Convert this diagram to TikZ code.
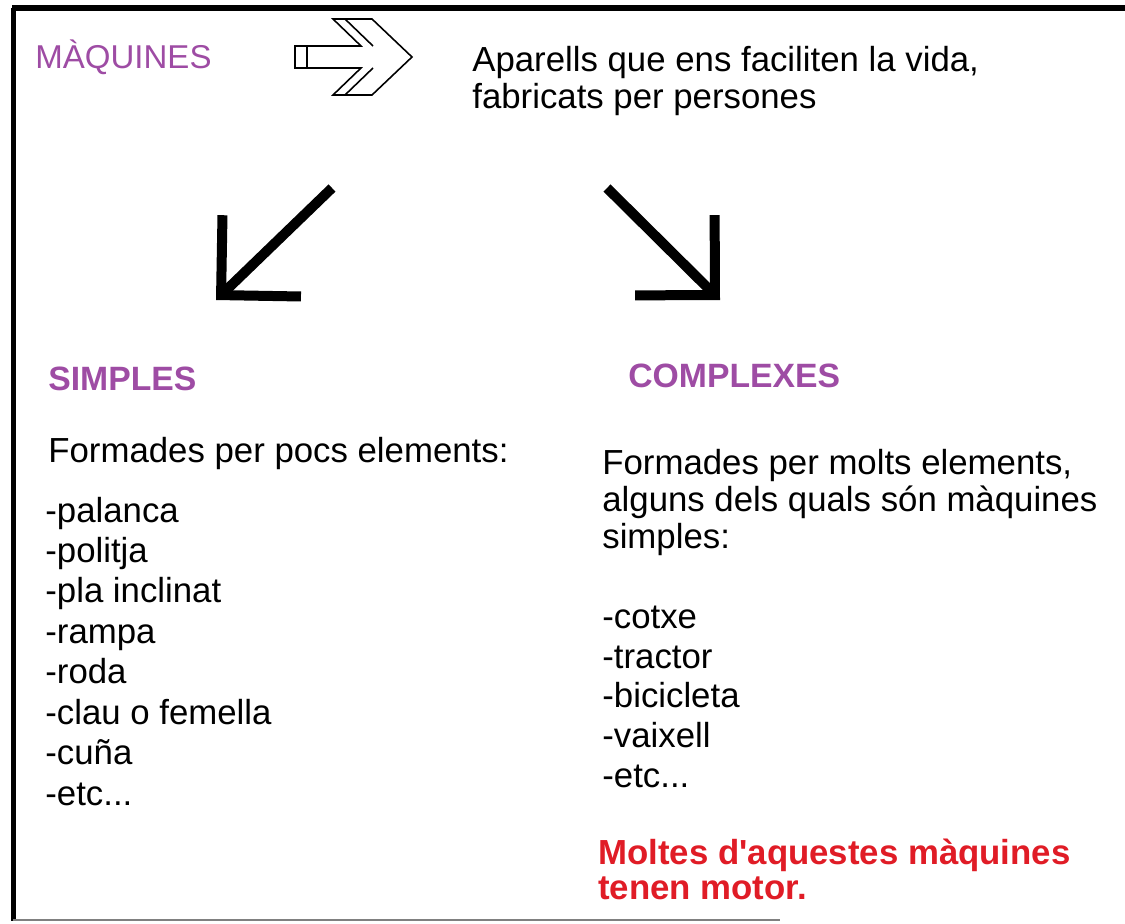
\documentclass[tikz,border=0pt]{standalone}
\usepackage{fontspec}
\setmainfont{Liberation Sans}
\usetikzlibrary{arrows.meta}
\definecolor{lila}{RGB}{158,76,164}
\definecolor{vermell}{RGB}{224,28,38}

\begin{document}
\begin{tikzpicture}[x=0.02cm, y=-0.02cm,
  titol/.style={anchor=base west, inner sep=0, text=lila, font=\fontsize{18.8}{21}\selectfont},
  capsal/.style={anchor=base west, inner sep=0, text=lila, font=\fontsize{19.2}{21}\selectfont\bfseries},
  cos/.style={anchor=base west, inner sep=0, align=left, font=\fontsize{19.8}{21}\selectfont},
  llista/.style={anchor=base west, inner sep=0, align=left, font=\fontsize{19.8}{23}\selectfont},
  nota/.style={anchor=base west, inner sep=0, align=left, text=vermell, font=\fontsize{19.8}{19.8}\selectfont\bfseries},
  fletxa/.style={line width=0.2cm, -{Straight Barb[sharp, length=1.13cm, width=2.26cm]}}]
\useasboundingbox (0,0) rectangle (1125,923);
% marc
\draw [line width=6*0.02cm] (12,8) -- (1125,8);
\draw [line width=5*0.02cm] (13,8) -- (13,921);
\draw [line width=2*0.02cm, gray] (13,920) -- (780,920);
% titol i definicio (base = darrera linia)
\node (maq) [titol] at (35,68) {MÀQUINES};
\node (desc) [cos] at (472,108) {Aparells que ens faciliten la vida,\\fabricats per persones};
% fletxa buida
\draw [line width=0.9pt, line join=miter] (295,46) -- (361,46) -- (333,19) -- (372,19) -- (412,57) -- (372,95) -- (333,95) -- (361,68) -- (295,68) -- cycle;
\draw [line width=0.9pt] (307,46) -- (307,68);
\draw [line width=0.9pt] (345,19) -- (373,46);
\draw [line width=0.9pt] (345,95) -- (373,68);
% fletxes gruixudes
\coordinate (ls) at (332,188);
\coordinate (le) at (216,300);
\coordinate (rs) at (607,188);
\coordinate (re) at (720,300);
\draw [fletxa] (ls) -- (le);
\draw [fletxa] (rs) -- (re);
% simples
\node (simples) [capsal] at (48,390) {SIMPLES};
\node (fsimples) [cos] at (48,462) {Formades per pocs elements:};
\node (llsimples) [llista] at (45,805) {-palanca\\-politja\\-pla inclinat\\-rampa\\-roda\\-clau o femella\\-cuña\\-etc...};
% complexes
\node (complexes) [capsal] at (628,387) {COMPLEXES};
\node (fcomplexes) [cos] at (602,548) {Formades per molts elements,\\alguns dels quals són màquines\\simples:};
\node (llcomplexes) [llista, font=\fontsize{19.8}{22.5}\selectfont] at (602,787) {-cotxe\\-tractor\\-bicicleta\\-vaixell\\-etc...};
\node (nota) [nota] at (598,899) {Moltes d\textquotesingle aquestes màquines\\tenen motor.};
\end{tikzpicture}
\end{document}
